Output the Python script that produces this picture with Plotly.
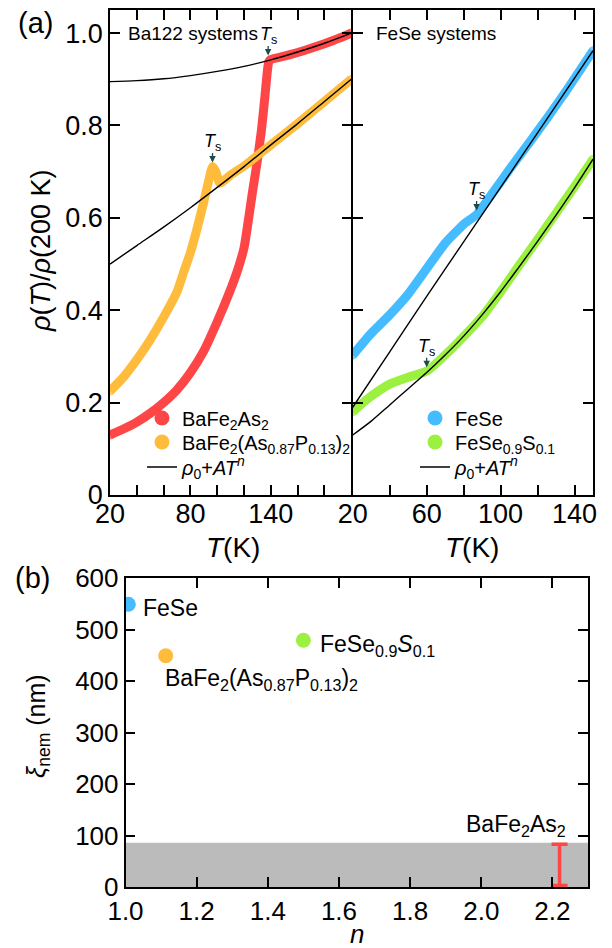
import plotly.graph_objects as go

# ---------------- data ----------------
# panel (a) left: Ba122 systems
T_ba = [20, 30, 40, 50, 60, 70, 80, 90, 100, 110, 115, 120, 123, 126, 130, 133, 135.5, 137.5, 138.5, 140, 150, 160, 170, 180, 190, 200]
rho_ba = [0.13, 0.143, 0.158, 0.177, 0.2, 0.228, 0.265, 0.312, 0.375, 0.445, 0.485, 0.535, 0.59, 0.65, 0.725, 0.79, 0.86, 0.92, 0.938, 0.943, 0.95, 0.958, 0.967, 0.977, 0.988, 1.0]
T_ba_fit = [20, 40, 60, 80, 100, 120, 140, 160, 180, 200]
rho_ba_fit = [0.895, 0.897, 0.901, 0.908, 0.917, 0.928, 0.942, 0.959, 0.978, 1.0]

T_p = [20, 30, 40, 50, 60, 70, 75, 80, 85, 90, 94, 96.5, 99, 102, 110, 120, 140, 160, 180, 200]
rho_p = [0.225, 0.255, 0.293, 0.336, 0.385, 0.44, 0.483, 0.525, 0.577, 0.635, 0.685, 0.711, 0.70, 0.675, 0.693, 0.712, 0.758, 0.804, 0.852, 0.9]
T_p_fit = [20, 40, 60, 80, 100, 120, 140, 160, 180, 200]
rho_p_fit = [0.5, 0.54, 0.58, 0.622, 0.666, 0.711, 0.758, 0.804, 0.852, 0.9]

# panel (a) right: FeSe systems
T_fs = [20, 30, 40, 50, 60, 70, 80, 87, 95, 105, 115, 125, 135, 150]
rho_fs = [0.303, 0.35, 0.39, 0.435, 0.49, 0.545, 0.586, 0.607, 0.65, 0.706, 0.76, 0.815, 0.872, 0.962]
T_fs_fit = [20, 40, 60, 80, 100, 120, 150]
rho_fs_fit = [0.19, 0.31, 0.43, 0.548, 0.666, 0.784, 0.962]

T_fss = [20, 25, 30, 40, 50, 60, 70, 80, 90, 100, 110, 120, 130, 140, 150]
rho_fss = [0.18, 0.198, 0.214, 0.24, 0.255, 0.268, 0.303, 0.343, 0.386, 0.44, 0.497, 0.553, 0.61, 0.668, 0.727]
T_fss_fit = [20, 30, 40, 50, 60, 70, 80, 90, 100, 110, 120, 130, 140, 150]
rho_fss_fit = [0.13, 0.16, 0.195, 0.23, 0.265, 0.303, 0.344, 0.39, 0.44, 0.494, 0.549, 0.606, 0.665, 0.727]

# structural transition temperatures and rho at Ts
Ts_T = [138, 96.5, 87, 60]
Ts_rho = [0.943, 0.711, 0.607, 0.268]

# panel (b)
n_vals = [1.008, 1.113, 1.50]
xi_vals = [549, 449, 479]
n_ba = [2.22]
xi_ba = [43]
xi_ba_err = [40]
band_top = 86

left_xticks = [20, 40, 60, 80, 100, 120, 140, 160, 180, 200]
left_xtext = ['20', '', '', '80', '', '', '140', '', '', '']
right_xticks = [20, 40, 60, 80, 100, 120, 140]
right_xtext = ['20', '', '60', '', '100', '', '140']
yticks_a = [0, 0.2, 0.4, 0.6, 0.8, 1.0]
ytext_a = ['0', '0.2', '0.4', '0.6', '0.8', '1.0']
xticks_b = [1.0, 1.2, 1.4, 1.6, 1.8, 2.0, 2.2]
yticks_b = [0, 100, 200, 300, 400, 500, 600]

RED = '#ff4646'
ORANGE = '#ffbc3c'
BLUE = '#44bcff'
GREEN = '#9cf040'
ARROW = '#1d4a4a'
FONT = 'Liberation Sans, Arial, sans-serif'

# page body has an 8px margin; compensate so that the figure lands on the window pixels
OFF = 8
W, H = 604, 940
LW = 1.5


def px_x(p):
    return (p - OFF) / W


def px_y(p):
    return 1 - (p - OFF) / H


def caps(n, s):
    return [s] + [0] * (n - 2) + [s]


fig = go.Figure()

# data curves
for T, rho, col, xa, ya in [
    (T_ba, rho_ba, RED, 'x', 'y'),
    (T_p, rho_p, ORANGE, 'x', 'y'),
    (T_fs, rho_fs, BLUE, 'x2', 'y2'),
    (T_fss, rho_fss, GREEN, 'x2', 'y2'),
]:
    fig.add_trace(go.Scatter(x=T, y=rho, mode='lines+markers', xaxis=xa, yaxis=ya,
                             line=dict(color=col, width=9, shape='spline', smoothing=0.5),
                             marker=dict(size=caps(len(T), 9), color=col, line=dict(width=0)),
                             showlegend=False, hoverinfo='skip'))

# fit curves
for T, rho, xa, ya in [
    (T_ba_fit, rho_ba_fit, 'x', 'y'),
    (T_p_fit, rho_p_fit, 'x', 'y'),
    (T_fs_fit, rho_fs_fit, 'x2', 'y2'),
    (T_fss_fit, rho_fss_fit, 'x2', 'y2'),
]:
    fig.add_trace(go.Scatter(x=T, y=rho, mode='lines', xaxis=xa, yaxis=ya,
                             line=dict(color='black', width=1.4, shape='spline', smoothing=0.8),
                             showlegend=False, hoverinfo='skip'))

# legend entries (one legend per row for exact placement)
fit_name = '<i>ρ</i><sub>0</sub>+<i>AT</i><sup><i>n</i></sup>'
legend_rows = [
    ('BaFe<sub>2</sub>As<sub>2</sub>', RED, 'markers', 'legend', 142, 418),
    ('BaFe<sub>2</sub>(As<sub>0.87</sub>P<sub>0.13</sub>)<sub>2</sub>', ORANGE, 'markers', 'legend2', 142, 442),
    (fit_name, 'black', 'lines', 'legend3', 142, 467),
    ('FeSe', BLUE, 'markers', 'legend4', 415, 418),
    ('FeSe<sub>0.9</sub>S<sub>0.1</sub>', GREEN, 'markers', 'legend5', 415, 442),
    (fit_name, 'black', 'lines', 'legend6', 415, 467),
]
legend_layout = {}
for name, col, mode, lg, lx, ly in legend_rows:
    if mode == 'markers':
        fig.add_trace(go.Scatter(x=[None], y=[None], mode='markers', name=name, legend=lg,
                                 marker=dict(size=15, color=col), xaxis='x', yaxis='y'))
    else:
        fig.add_trace(go.Scatter(x=[None], y=[None], mode='lines', name=name, legend=lg,
                                 line=dict(color=col, width=1.4), xaxis='x', yaxis='y'))
    legend_layout[lg] = dict(x=px_x(lx), y=px_y(ly), xanchor='left', yanchor='middle',
                             bgcolor='rgba(0,0,0,0)', font=dict(size=20), itemwidth=30)

# panel (b)
for nv, xv, col in zip(n_vals, xi_vals, [BLUE, ORANGE, GREEN]):
    fig.add_trace(go.Scatter(x=[nv], y=[xv], mode='markers', xaxis='x3', yaxis='y3',
                             marker=dict(size=15, color=col), showlegend=False))
fig.add_trace(go.Scatter(x=n_ba, y=xi_ba, mode='markers', xaxis='x3', yaxis='y3',
                         marker=dict(size=1, color=RED, opacity=0),
                         error_y=dict(type='data', array=xi_ba_err, color=RED, thickness=3.5, width=8),
                         showlegend=False))

fig.add_shape(type='rect', xref='x3 domain', yref='y3', x0=0, x1=1, y0=0, y1=band_top,
              fillcolor='#bbbbbb', line=dict(width=0), layer='below')

axis_common = dict(showline=True, linecolor='black', linewidth=LW, mirror='ticks',
                   ticks='inside', ticklen=10, tickwidth=LW, tickcolor='black',
                   showgrid=False, zeroline=False, automargin=False)

top_dom = [px_y(495), px_y(10)]
# the two top panels share the divider line at x = 352 px
fig.update_layout(
    width=W, height=H, margin=dict(l=0, r=0, t=0, b=0),
    paper_bgcolor='white', plot_bgcolor='rgba(0,0,0,0)',
    font=dict(family=FONT, color='black'),
    xaxis=dict(domain=[px_x(110), px_x(352 - LW / 2)], range=[20, 200], anchor='y',
               tickvals=left_xticks, ticktext=left_xtext, tickfont=dict(size=27),
               ticklabelstandoff=-6, **axis_common),
    yaxis=dict(domain=top_dom, range=[0, 1.05], anchor='x',
               tickvals=yticks_a, ticktext=ytext_a, tickfont=dict(size=27), **axis_common),
    xaxis2=dict(domain=[px_x(352 + LW / 2), px_x(593)], range=[20, 150], anchor='y2',
                tickvals=right_xticks, ticktext=right_xtext, tickfont=dict(size=27),
                ticklabelstandoff=-6, **axis_common),
    yaxis2=dict(domain=top_dom, range=[0, 1.05], anchor='x2',
                tickvals=yticks_a, showticklabels=False, **axis_common),
    xaxis3=dict(domain=[px_x(125.5), px_x(588)], range=[1.0, 2.3], anchor='y3',
                tickvals=xticks_b, tickformat='.1f', tickfont=dict(size=26), **axis_common),
    yaxis3=dict(domain=[px_y(887), px_y(578)], range=[0, 600], anchor='x3',
                tickvals=yticks_b, tickfont=dict(size=26), **axis_common),
    **legend_layout,
)


def label(px, py, text, size, angle=0, xa='center', ya='middle'):
    return dict(x=px_x(px), y=px_y(py), xref='paper', yref='paper', xanchor=xa, yanchor=ya,
                text=text, showarrow=False, textangle=angle, font=dict(size=size))


ann = []
# Ts markers: a short arrow plus a label above it
for T, r, xa, ya in zip(Ts_T, Ts_rho, ['x', 'x', 'x2', 'x2'], ['y', 'y', 'y2', 'y2']):
    ann.append(dict(x=T, y=r, xref=xa, yref=ya, text='', showarrow=True,
                    ax=0, ay=-15, standoff=4, arrowhead=2, arrowsize=1.0, arrowwidth=1.3,
                    arrowcolor=ARROW))
    ann.append(dict(x=T, y=r, xref=xa, yref=ya, text='<i>T</i><sub>s</sub>', showarrow=False,
                    xanchor='center', yanchor='middle', yshift=24, font=dict(size=18)))
# titles & labels
ann += [
    label(126, 34, 'Ba122 systems', 19, xa='left'),
    label(374, 34, 'FeSe systems', 19, xa='left'),
    label(35, 23, '(a)', 29),
    label(32, 578, '(b)', 29),
    label(41, 251, '<i>ρ</i>(<i>T</i>)/<i>ρ</i>(200 K)', 27, angle=-90),
    label(233, 547, '<i>T</i>(K)', 28),
    label(472, 547, '<i>T</i>(K)', 28),
    label(38, 726, '<i>ξ</i><sub>nem</sub> (nm)', 25, angle=-90),
    label(357, 934, '<i>n</i>', 26),
    # panel (b) point labels
    dict(x=1.043, y=542, xref='x3', yref='y3', xanchor='left', yanchor='middle', showarrow=False,
         text='FeSe', font=dict(size=23)),
    dict(x=1.542, y=468, xref='x3', yref='y3', xanchor='left', yanchor='middle', showarrow=False,
         text='FeSe<sub>0.9</sub><i>S</i><sub>0.1</sub>', font=dict(size=23)),
    dict(x=1.106, y=403, xref='x3', yref='y3', xanchor='left', yanchor='middle', showarrow=False,
         text='BaFe<sub>2</sub>(As<sub>0.87</sub>P<sub>0.13</sub>)<sub>2</sub>', font=dict(size=23)),
    dict(x=2.244, y=120, xref='x3', yref='y3', xanchor='right', yanchor='middle', showarrow=False,
         text='BaFe<sub>2</sub>As<sub>2</sub>', font=dict(size=23)),
]
fig.update_layout(annotations=ann)

fig.write_html('out.html')
